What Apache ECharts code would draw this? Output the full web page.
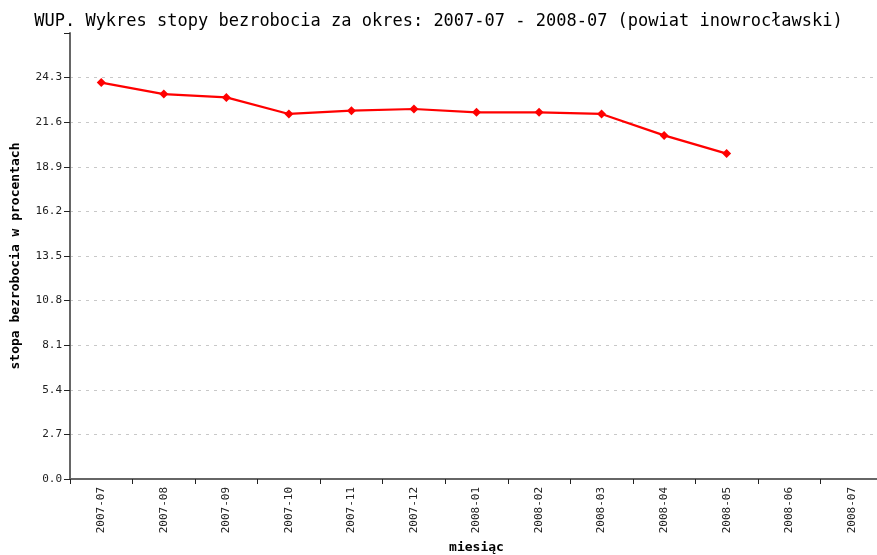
<!DOCTYPE html>
<html><head><meta charset="utf-8">
<script src="https://cdn.jsdelivr.net/npm/echarts@6/dist/echarts.min.js"></script>
<style>html,body{margin:0;padding:0;background:#fff}#c{width:877px;height:555px}</style>
</head><body><div id="c"></div>
<script>
const months = ['2007-07','2007-08','2007-09','2007-10','2007-11','2007-12','2008-01','2008-02','2008-03','2008-04','2008-05','2008-06','2008-07'];
const rates = [24.0, 23.3, 23.1, 22.1, 22.3, 22.4, 22.2, 22.2, 22.1, 20.8, 19.7, null, null];
const titleText = 'WUP. Wykres stopy bezrobocia za okres: 2007-07 - 2008-07 (powiat inowrocławski)';
const yName = 'stopa bezrobocia w procentach';
const xName = 'miesiąc';
const mono = '"DejaVu Sans Mono", "Liberation Mono", monospace';
const chart = echarts.init(document.getElementById('c'), null, {renderer:'canvas'});
chart.setOption({
  animation:false,
  backgroundColor:'#fff',
  title:{text:titleText, left:'center', top:8, textStyle:{fontFamily:mono, fontSize:17, fontWeight:'normal', color:'#000'}},
  grid:{left:70, right:-6, top:33, bottom:76, containLabel:false, outerBoundsMode:'none'},
  xAxis:{type:'category', data:months, boundaryGap:true,
    name:xName, nameLocation:'middle', nameGap:62,
    nameTextStyle:{fontFamily:mono, fontSize:13, fontWeight:'bold', color:'#000'},
    axisLine:{lineStyle:{color:'#666', width:2}},
    axisTick:{show:true, length:5, lineStyle:{color:'#222'}},
    axisLabel:{rotate:90, fontFamily:mono, fontSize:11, color:'#222', margin:8},
    splitLine:{show:false}},
  yAxis:{type:'value', min:0, max:27, interval:2.7,
    name:yName, nameLocation:'middle', nameGap:48,
    nameTextStyle:{fontFamily:mono, fontSize:13, fontWeight:'bold', color:'#000'},
    axisLine:{show:true, lineStyle:{color:'#666', width:2}},
    axisTick:{show:true, length:6, lineStyle:{color:'#222'}},
    axisLabel:{fontFamily:mono, fontSize:11, color:'#222', margin:8,
      formatter:function(v){ return v >= 26.9 ? '' : v.toFixed(1); }},
    splitLine:{show:true, showMaxLine:false, lineStyle:{color:'#c8c8c8', type:[3,5]}}},
  series:[{type:'line', data:rates, connectNulls:false,
    symbol:'diamond', symbolSize:9,
    lineStyle:{color:'#ff0000', width:2.2},
    itemStyle:{color:'#ff0000'}}]
});
</script></body></html>
